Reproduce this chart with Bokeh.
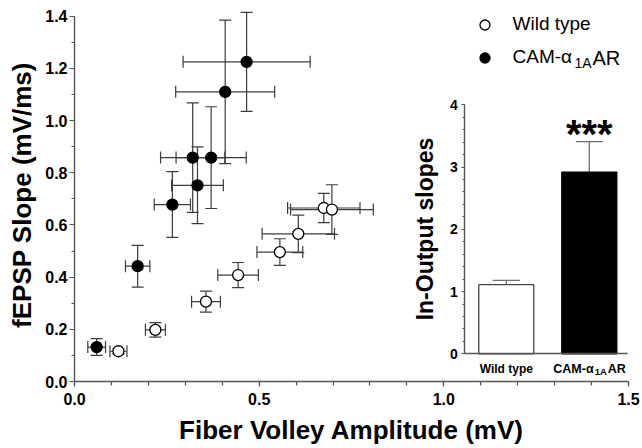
from bokeh.plotting import figure
from bokeh.models import (Range1d, LinearAxis, SingleIntervalTicker, FixedTicker,
                          PrintfTickFormatter, Whisker, TeeHead, ColumnDataSource,
                          Legend, LegendItem, Label)
from bokeh.core.properties import value
from bokeh.embed import file_html
from bokeh.resources import INLINE

# ---------------- data ----------------
wt_fv = [0.119, 0.219, 0.356, 0.443, 0.556, 0.606, 0.675, 0.697]
wt_fv_err = [0.023, 0.027, 0.039, 0.055, 0.062, 0.098, 0.098, 0.112]
wt_slope = [0.116, 0.198, 0.306, 0.408, 0.496, 0.566, 0.665, 0.659]
wt_slope_err = [0.010, 0.028, 0.040, 0.048, 0.051, 0.072, 0.056, 0.095]

cam_fv = [0.060, 0.171, 0.265, 0.333, 0.320, 0.370, 0.408, 0.466]
cam_fv_err = [0.024, 0.033, 0.049, 0.070, 0.087, 0.095, 0.134, 0.172]
cam_slope = [0.132, 0.442, 0.678, 0.752, 0.858, 0.858, 1.110, 1.225]
cam_slope_err = [0.032, 0.080, 0.126, 0.147, 0.210, 0.195, 0.275, 0.190]

inset_groups = ["Wild type", "CAM-α1AAR"]
inset_mean = [1.11, 2.92]
inset_sem = [0.07, 0.49]
inset_sig = ["", "***"]
cam_name_parts = ["CAM-α", "1A", "AR"]   # name with "1A" as subscript
legend_labels = ["Wild type", "CAM-α"]

x_title = "Fiber Volley Amplitude (mV)"
y_title = "fEPSP Slope (mV/ms)"
inset_y_title = "In-Output slopes"

# ---------------- layout geometry ----------------
W, H = 642, 448
BL, BR, BT, BB = 74, 14, 8, 67
FW, FH = W - BL - BR, H - BT - BB
Y_PX = 365.3 / 1.4
y_end = FH / Y_PX
IX_PX, IX_ANCHOR = 83.0, 431.8   # inset x: 1 unit = 83 px, x=1 at this frame px
IY_PX, IY_ANCHOR = 62.25, 27.7   # inset y: 1 unit = 62.25 px, y=0 this far above frame bottom
ix_start = 1 - IX_ANCHOR / IX_PX
iy_start = -IY_ANCHOR / IY_PX

FONT = "Liberation Sans"
AXC = "#555555"
ERRC = "#3c3c3c"

p = figure(width=W, height=H, output_backend="svg", toolbar_location=None,
           x_range=Range1d(0, 1.5), y_range=Range1d(0, y_end),
           min_border_left=BL, min_border_right=BR, min_border_top=BT, min_border_bottom=BB)
p.outline_line_color = None
p.xgrid.grid_line_color = None
p.ygrid.grid_line_color = None
p.extra_x_ranges = {"ix": Range1d(ix_start, ix_start + FW / IX_PX)}
p.extra_y_ranges = {"iy": Range1d(iy_start, iy_start + FH / IY_PX)}

def style_axis(ax, tick_size, label_size):
    ax.axis_line_color = AXC
    ax.axis_line_width = 1.4
    ax.major_tick_line_color = AXC
    ax.minor_tick_line_color = AXC
    ax.major_tick_line_width = 1.2
    ax.minor_tick_line_width = 1.2
    ax.major_tick_in = 0
    ax.minor_tick_in = 0
    ax.major_label_text_font = FONT
    ax.major_label_text_font_style = "bold"
    ax.major_label_text_font_size = tick_size
    ax.major_label_text_color = "black"
    ax.axis_label_text_font = FONT
    ax.axis_label_text_font_style = "bold"
    ax.axis_label_text_font_size = label_size
    ax.axis_label_text_color = "black"

xa = p.xaxis[0]
ya = p.yaxis[0]
style_axis(xa, "16px", "26px")
style_axis(ya, "16px", "26px")
xa.ticker = SingleIntervalTicker(interval=0.5, num_minor_ticks=5)
xa.formatter = PrintfTickFormatter(format="%.1f")
xa.bounds = (0, 1.50001)
xa.major_tick_out = 5
xa.minor_tick_out = 4
xa.major_label_standoff = 6
xa.axis_label = x_title
xa.axis_label_standoff = 7
ya.ticker = SingleIntervalTicker(interval=0.2, num_minor_ticks=2)
ya.formatter = PrintfTickFormatter(format="%.1f")
ya.bounds = (0, 1.40001)
ya.major_tick_out = 5
ya.minor_tick_out = 3
ya.major_label_standoff = 2
ya.axis_label = y_title
ya.axis_label_standoff = 5

# ---------------- main scatter with error bars ----------------
def whiskers(xs, ys, xe, ye):
    h = ColumnDataSource(dict(base=ys, lower=[a - e for a, e in zip(xs, xe)],
                              upper=[a + e for a, e in zip(xs, xe)]))
    v = ColumnDataSource(dict(base=xs, lower=[a - e for a, e in zip(ys, ye)],
                              upper=[a + e for a, e in zip(ys, ye)]))
    for src, dim in ((h, "width"), (v, "height")):
        w = Whisker(source=src, base="base", lower="lower", upper="upper", dimension=dim,
                    line_color=ERRC, line_width=1.2, level="underlay",
                    upper_head=TeeHead(size=12, line_color=ERRC, line_width=1.2),
                    lower_head=TeeHead(size=12, line_color=ERRC, line_width=1.2))
        p.add_layout(w)

whiskers(wt_fv, wt_slope, wt_fv_err, wt_slope_err)
whiskers(cam_fv, cam_slope, cam_fv_err, cam_slope_err)

r_wt = p.scatter(wt_fv, wt_slope, size=11, fill_color="white", line_color="black", line_width=1.3)
r_cam = p.scatter(cam_fv, cam_slope, size=11, fill_color="black", line_color="black", line_width=1.3)

# ---------------- legend ----------------
leg = Legend(items=[LegendItem(label=legend_labels[0], renderers=[r_wt]),
                    LegendItem(label=legend_labels[1], renderers=[r_cam])],
             location=(397.5, 311.5), glyph_width=25, glyph_height=25, label_height=25,
             spacing=8, label_standoff=16, padding=0, margin=0,
             border_line_alpha=0, background_fill_alpha=0,
             label_text_font=FONT, label_text_font_size="19px", label_text_color="black")
p.add_layout(leg)
p.add_layout(Label(x=500, y=319, x_units="screen", y_units="screen", text=cam_name_parts[1],
                   text_font=FONT, text_font_size="14px", text_baseline="middle", text_color="black"))
p.add_layout(Label(x=518, y=324, x_units="screen", y_units="screen", text=cam_name_parts[2],
                   text_font=FONT, text_font_size="20px", text_baseline="middle", text_color="black"))

# ---------------- inset bar chart ----------------
inset_x = [i + 1 for i in range(len(inset_groups))]
iya = LinearAxis(x_range_name="ix", y_range_name="iy", fixed_location=0.5, bounds=(0, 4),
                 ticker=SingleIntervalTicker(interval=1, num_minor_ticks=5))
style_axis(iya, "14px", "23px")
iya.major_tick_out = 3
iya.minor_tick_out = 2
iya.major_label_standoff = 4
iya.axis_label = inset_y_title
iya.axis_label_standoff = 9
p.add_layout(iya, "left")

ixa = LinearAxis(x_range_name="ix", y_range_name="iy", fixed_location=0, bounds=(0.5, 2.46),
                 ticker=FixedTicker(ticks=[]))
style_axis(ixa, "12px", "12px")
ixa.major_label_text_alpha = 0
p.add_layout(ixa, "below")

p.vbar(x=inset_x, top=inset_mean, bottom=0, width=0.663, x_range_name="ix", y_range_name="iy",
       fill_color=["white", "black"], line_color=["#444444", "black"], line_width=1.3)
isrc = ColumnDataSource(dict(base=inset_x, lower=inset_mean,
                             upper=[m + s for m, s in zip(inset_mean, inset_sem)]))
p.add_layout(Whisker(source=isrc, base="base", lower="lower", upper="upper", dimension="height",
                     x_range_name="ix", y_range_name="iy", line_color="#707070", line_width=1.3,
                     level="underlay", lower_head=None,
                     upper_head=TeeHead(size=27, line_color="#707070", line_width=1.3)))
p.text(x=inset_x, y=isrc.data["upper"], text=inset_sig, x_range_name="ix", y_range_name="iy",
       text_align="center", text_baseline="alphabetic", y_offset=-8,
       text_font=value(FONT), text_font_style="bold", text_font_size="40px", text_color="black")

# category labels (second label written with a subscript)
lab = ColumnDataSource(dict(
    x=[inset_x[0], inset_x[1], inset_x[1], inset_x[1]],
    y=[0, 0, 0, 0],
    text=[inset_groups[0]] + cam_name_parts,
    xo=[0, -36, 5.5, 18.5],
    yo=[14.7, 14.7, 17.2, 14.7],
    size=["12px", "12.5px", "9.5px", "12.5px"],
    align=["center", "left", "left", "left"],
))
p.text(x="x", y="y", text="text", source=lab, x_offset="xo", y_offset="yo",
       text_font_size="size", text_align="align", text_baseline="alphabetic",
       x_range_name="ix", y_range_name="iy",
       text_font=value(FONT), text_font_style="bold", text_color="black")

open("out.html", "w").write(file_html(p, INLINE))
